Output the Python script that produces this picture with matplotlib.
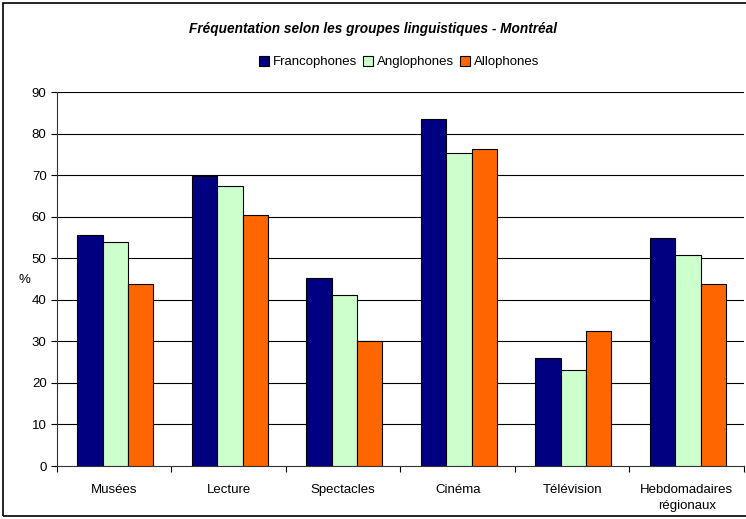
import numpy as np
import matplotlib
matplotlib.use('Agg')
import matplotlib.pyplot as plt
from matplotlib.patches import Rectangle

plt.rcParams['font.family'] = ['Liberation Sans', 'DejaVu Sans']

categories = ['Musées', 'Lecture', 'Spectacles', 'Cinéma', 'Télévision', 'Hebdomadaires\nrégionaux']
francophones = [55.5, 69.7, 45.2, 83.4, 25.9, 54.8]
anglophones = [53.9, 67.5, 41.1, 75.3, 23.2, 50.8]
allophones = [43.9, 60.5, 30.2, 76.4, 32.4, 43.9]
series_names = ['Francophones', 'Anglophones', 'Allophones']
colors = ['#000080', '#CCFFCC', '#FF6600']

fig = plt.figure(figsize=(7.46, 5.19), dpi=100)
ax = fig.add_axes([0.0764, 0.1021, 0.9209, 0.7206])

x = np.arange(len(categories))
w = 0.221
for i, (vals, name) in enumerate(zip([francophones, anglophones, allophones], series_names)):
    ax.bar(x + (i - 1) * w + 0.01, vals, w, color=colors[i], edgecolor='black',
           linewidth=0.8, label=name, zorder=3)

ax.set_xlim(-0.5, len(categories) - 0.5)
ax.set_ylim(0, 90)
ax.set_yticks(range(0, 91, 10))
ax.set_xticks(x)
ax.set_xticklabels(categories, fontsize=9.5, linespacing=1.45)
ax.set_xticks(np.arange(-0.5, len(categories), 1), minor=True)
ax.tick_params(axis='x', which='major', length=0, pad=13)
ax.tick_params(axis='x', which='minor', length=4, direction='out', width=0.8)
ax.tick_params(axis='y', length=4, labelsize=9.5, width=0.8)
for y in range(10, 91, 10):
    ax.axhline(y, color='black', linewidth=0.8, zorder=1)
for s in ['top', 'right']:
    ax.spines[s].set_visible(False)
for s in ['left', 'bottom']:
    ax.spines[s].set_linewidth(0.8)
    ax.spines[s].set_color('#333333')
ax.set_ylabel('%', rotation=0, fontsize=9.5)
ax.yaxis.set_label_coords(-0.048, 0.48)

fig.text(0.5, 0.945, 'Fréquentation selon les groupes linguistiques - Montréal',
         ha='center', va='center', fontsize=9.8, fontweight='bold', fontstyle='italic')
fig.legend(loc='center', bbox_to_anchor=(0.535, 0.88), ncol=3, frameon=False,
           fontsize=9.5, handlelength=0.75, handleheight=0.75, handletextpad=0.25,
           columnspacing=0.5)

fig.patches.append(Rectangle((0.004, 0.006), 1.1, 0.988, transform=fig.transFigure,
                             fill=False, edgecolor='black', linewidth=1.2))

fig.savefig('out.png', dpi=100)
